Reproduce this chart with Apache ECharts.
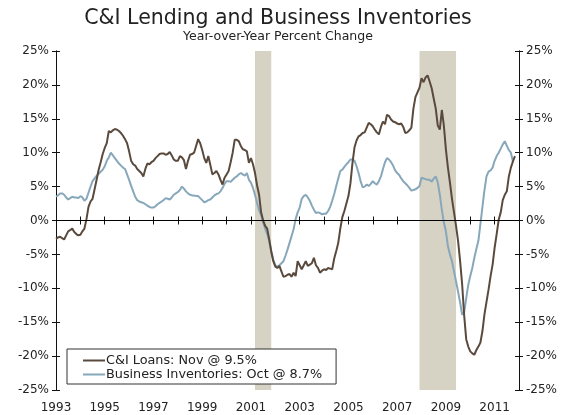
<!DOCTYPE html>
<html>
<head>
<meta charset="utf-8">
<script src="https://cdn.jsdelivr.net/npm/echarts@6/dist/echarts.min.js"></script>
<style>
html,body{margin:0;padding:0;background:#fff;}
#chart{width:576px;height:415px;}
</style>
</head>
<body>
<div id="chart"></div>
<script>
// Monthly data, first month Jan 1993
var startYear = 1993;
var loans = [
-2.7,-2.5,-2.4,-2.6,-2.8,-2.2,-1.6,-1.4,-1.2,-1.7,-2.0,-2.2,
-2.1,-1.6,-1.2,0.2,2.0,2.8,3.2,4.6,6.0,7.5,8.6,9.8,
10.7,11.4,13.2,13.0,13.3,13.5,13.4,13.2,12.9,12.5,12.0,11.4,
10.2,8.8,8.3,8.1,7.6,7.3,7.0,6.5,7.6,8.4,8.3,8.6,
8.8,9.2,9.5,9.8,9.9,9.9,9.7,9.8,10.1,9.6,9.0,8.8,
8.8,9.5,9.3,8.9,7.6,8.8,9.7,9.8,10.0,11.0,12.0,11.4,
10.4,9.2,8.5,9.5,8.2,6.8,7.0,7.3,6.8,6.0,5.3,6.3,
6.8,7.3,8.6,10.0,11.9,11.9,11.7,11.0,10.5,10.4,10.2,8.5,
9.2,8.3,7.0,5.2,3.8,1.2,0.0,-0.8,-1.2,-2.8,-4.6,-6.0,
-6.8,-7.0,-6.7,-7.5,-8.3,-8.2,-8.0,-7.9,-8.3,-7.7,-8.2,-6.0,
-6.6,-7.2,-6.6,-6.0,-6.7,-6.5,-6.3,-5.5,-6.6,-7.0,-7.7,-7.4,
-7.2,-7.3,-7.0,-7.1,-7.2,-5.6,-4.5,-3.3,-1.2,0.5,1.4,2.5,
3.6,5.5,8.5,10.8,11.8,12.4,12.6,12.9,13.0,13.7,14.4,14.2,
13.9,13.4,13.0,12.7,13.8,14.6,14.2,15.6,15.4,14.9,14.6,14.5,
14.3,14.2,14.3,13.8,12.9,13.0,13.3,13.7,16.5,18.2,18.9,19.6,
21.0,20.4,21.1,21.4,20.5,19.5,18.0,16.5,14.0,13.4,16.3,14.0,
10.5,7.8,5.6,3.2,1.2,-0.8,-3.0,-6.0,-9.4,-14.0,-17.5,-18.6,
-19.3,-19.6,-19.8,-19.1,-18.6,-18.0,-16.3,-13.8,-12.0,-10.2,-8.2,-6.5,
-4.0,-2.0,0.1,1.2,3.0,3.8,4.3,6.5,7.8,8.7,9.5
];
var inventories = [
3.5,3.7,4.0,4.0,3.8,3.4,3.1,3.3,3.5,3.4,3.4,3.3,
3.6,3.4,2.9,3.2,4.1,5.0,5.8,6.2,6.6,6.9,7.2,7.5,
8.0,8.8,9.3,10.0,9.6,9.2,8.8,8.4,8.1,7.8,7.6,6.8,
6.0,5.1,4.3,3.5,3.0,2.8,2.7,2.6,2.4,2.2,2.0,1.9,
1.9,2.1,2.4,2.6,2.8,3.0,3.3,3.2,3.1,3.4,3.8,4.0,
4.2,4.5,5.0,4.7,4.3,4.0,3.8,3.7,3.7,3.6,3.6,3.3,
3.0,2.7,2.8,3.0,3.1,3.4,3.7,3.9,4.0,4.3,4.8,5.4,
5.8,5.8,5.7,6.0,6.3,6.5,6.8,7.0,6.8,6.6,7.0,6.0,
5.6,4.8,3.8,2.6,1.5,0.8,-0.3,-1.2,-2.0,-3.0,-4.5,-5.8,
-6.6,-6.8,-6.6,-6.3,-6.0,-5.2,-4.3,-3.3,-2.3,-1.3,0.2,1.2,
1.9,3.2,3.6,3.8,3.4,2.9,2.2,1.6,1.1,1.2,1.1,0.9,
1.0,1.0,1.4,2.0,2.9,3.9,5.1,6.2,7.3,7.5,7.9,8.3,
8.6,9.0,9.0,8.8,8.0,7.0,5.8,4.9,5.0,5.3,5.1,5.4,
5.8,5.5,5.3,5.8,6.5,7.6,8.6,9.2,9.0,8.6,8.1,7.4,
7.0,6.7,6.2,5.8,5.5,5.2,4.8,4.4,4.5,4.6,4.8,5.1,
6.3,6.2,6.1,6.0,6.0,5.7,6.2,6.5,5.6,3.8,1.6,-0.3,
-1.6,-3.8,-5.0,-6.0,-7.5,-9.0,-10.5,-12.1,-13.9,-13.5,-11.5,-9.5,
-8.2,-7.0,-5.5,-4.2,-3.0,-0.5,2.0,4.5,6.5,7.2,7.4,7.8,
8.8,9.5,10.0,10.6,11.2,11.7,11.0,10.4,10.0,8.7
];
// Recessions: [start year, start month, end year, end month] (months 1-12)
var recessions = [[2001, 3, 2001, 11], [2007, 12, 2009, 6]];
var yTicks = [-25, 25, 5];
var xRange = [1993, 2012];
var legendNames = ['C&I Loans: Nov @ 9.5%', 'Business Inventories: Oct @ 8.7%'];

function toPairs(arr) {
  return arr.map(function (v, i) { return [startYear + i / 12, v]; });
}
var FONT = 'DejaVu Sans';
var TXT = '#222';
var AX = '#111';

function yAx(pos, inside, labels) {
  return {
    type: 'value', position: pos, offset: 0, min: yTicks[0], max: yTicks[1], interval: yTicks[2],
    axisLine: { show: true, lineStyle: { color: AX, width: 1 } },
    axisTick: { show: true, inside: inside, length: 4, lineStyle: { color: AX } },
    axisLabel: { show: labels, formatter: '{value}%', color: TXT, fontFamily: FONT, fontSize: 12, margin: 7 },
    splitLine: { show: false }
  };
}
function xAx(inside, labels) {
  return {
    type: 'value', position: 'bottom', offset: 0, min: xRange[0], max: xRange[1], interval: 1,
    axisLine: { show: true, lineStyle: { color: AX, width: 1 } },
    axisTick: { show: true, inside: inside, length: 4, lineStyle: { color: AX } },
    axisLabel: {
      show: labels, color: TXT, fontFamily: FONT, fontSize: 12, margin: 12,
      formatter: function (v) { return (Math.round(v) % 2 === 1) ? String(Math.round(v)) : ''; }
    },
    splitLine: { show: false }
  };
}

var chart = echarts.init(document.getElementById('chart'), null, { renderer: 'canvas' });
chart.setOption({
  animation: false,
  backgroundColor: '#fff',
  title: [
    { text: 'C&I Lending and Business Inventories', left: 278, textAlign: 'center', top: 8, padding: 0,
      textStyle: { fontFamily: FONT, fontSize: 20.5, fontWeight: 'normal', color: TXT } },
    { text: 'Year-over-Year Percent Change', left: 278, textAlign: 'center', top: 30, padding: 0,
      textStyle: { fontFamily: FONT, fontSize: 12.5, fontWeight: 'normal', color: TXT } }
  ],
  grid: { left: 56, right: 57, top: 51, bottom: 25, containLabel: false },
  xAxis: [
    xAx(false, true),
    xAx(true, false),
    { type: 'value', position: 'top', offset: 0, min: xRange[0], max: xRange[1],
      axisLine: { show: true, lineStyle: { color: '#333', width: 1 } },
      axisTick: { show: false }, axisLabel: { show: false }, splitLine: { show: false } }
  ],
  yAxis: [
    yAx('left', false, true),
    yAx('left', true, false),
    yAx('right', false, true),
    yAx('right', true, false)
  ],
  legend: {
    orient: 'vertical', left: 67, top: 349,
    padding: [5, 14, 3, 16], itemGap: 1,
    backgroundColor: '#fff', borderColor: '#333', borderWidth: 1, borderRadius: 0,
    itemWidth: 22, itemHeight: 2, icon: 'rect',
    textStyle: { fontFamily: FONT, fontSize: 12.8, color: TXT, padding: [0, 0, 0, -4] },
    data: legendNames
  },
  series: [
    { type: 'line', name: 'recessions', data: [], z: 1, silent: true,
      markArea: { silent: true, itemStyle: { color: '#d6d2c4' },
        data: recessions.map(function (r) {
          return [{ xAxis: r[0] + (r[1] - 1) / 12 }, { xAxis: r[2] + (r[3] - 1) / 12 }];
        }) },
      markLine: { silent: true, symbol: ['none', 'none'], label: { show: false },
        lineStyle: { color: '#000', width: 1, type: 'solid' }, data: [{ yAxis: 0 }] } },
    { type: 'line', name: legendNames[1], data: toPairs(inventories), showSymbol: false, z: 3,
      lineStyle: { color: '#87a7bb', width: 2 }, itemStyle: { color: '#87a7bb' } },
    { type: 'line', name: legendNames[0], data: toPairs(loans), showSymbol: false, z: 4,
      lineStyle: { color: '#5a4a3e', width: 2 }, itemStyle: { color: '#5a4a3e' } }
  ]
});
</script>
</body>
</html>
